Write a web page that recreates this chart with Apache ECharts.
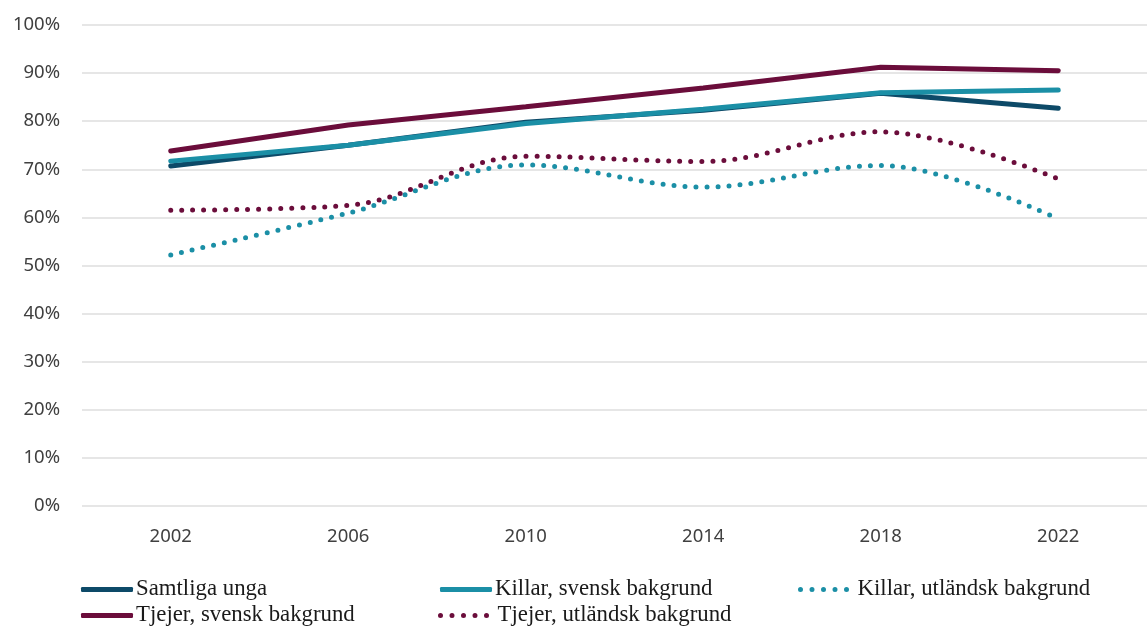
<!DOCTYPE html>
<html><head><meta charset="utf-8">
<script src="https://cdn.jsdelivr.net/npm/echarts@6/dist/echarts.min.js"></script>
<style>html,body{margin:0;padding:0;background:#fff}#c{width:1147px;height:628px}</style>
</head><body><div id="c"></div>
<script>
const categories = ['2002','2006','2010','2014','2018','2022'];
const samtligaUnga = [70.7, 75.0, 79.8, 82.3, 85.8, 82.7];
const killarSvensk = [71.7, 75.0, 79.5, 82.5, 85.9, 86.5];
const killarUtlandsk = [52.2, 60.9, 70.9, 66.3, 70.8, 59.7];
const tjejerSvensk = [73.8, 79.2, 83.0, 86.9, 91.2, 90.5];
const tjejerUtlandsk = [61.5, 62.5, 72.7, 71.6, 77.8, 68.0];
const yTicks = [0,10,20,30,40,50,60,70,80,90,100];

const cNavy = '#0d4a68', cTeal = '#1b8fa6', cMaroon = '#6b0d3b';
const dot = {type:[0,11], cap:'round', width:5};
function solid(name, data, color){
  return {name, type:'line', data, symbol:'none', lineStyle:{color, width:5, cap:'round'}, itemStyle:{color}, z: 3};
}
function dotted(name, data, color){
  return {name, type:'line', data, symbol:'none', smooth:0.35, lineStyle:Object.assign({color}, dot), itemStyle:{color}, z: 2};
}
// five-dot legend glyph
let dotsPath = 'path://';
[3, 14.5, 26, 37.5, 49].forEach(cx => { dotsPath += 'M' + (cx-2.5) + ',3a2.5,2.5 0 1,0 5,0a2.5,2.5 0 1,0 -5,0Z'; });
const legTxt = {fontFamily:'Liberation Serif', fontSize:22.8, color:'#1a1a1a'};
function leg(name, left, top, dotty){
  return {data:[{name, icon: dotty ? dotsPath : 'roundRect'}], left, top, orient:'horizontal', padding:0,
    itemWidth:52, itemHeight: 5, itemGap:0,
    textStyle:Object.assign({padding:[0,0,0, dotty ? 3 : -2]}, legTxt), selectedMode:false};
}
const chart = echarts.init(document.getElementById('c'));
chart.setOption({
  animation:false,
  grid:{left:82, right:-13, top:25, bottom:122, containLabel:false},
  xAxis:{type:'category', data:categories, boundaryGap:true,
    axisLine:{show:false}, axisTick:{show:false},
    axisLabel:{fontFamily:'Noto Sans', fontSize:18.5, color:'#404040', margin:21}},
  yAxis:{type:'value', min:0, max:100, interval:10,
    axisLabel:{formatter: v => yTicks.includes(v) ? v + '%' : '', fontFamily:'Noto Sans', fontSize:18.5, color:'#404040', margin:22},
    splitLine:{lineStyle:{color:'#dedede', width:1.5}}, axisLine:{show:false}, axisTick:{show:false}},
  legend:[
    leg('Samtliga unga', 81, 578, false),
    leg('Killar, svensk bakgrund', 440, 578, false),
    leg('Killar, utländsk bakgrund', 798, 578, true),
    leg('Tjejer, svensk bakgrund', 81, 604, false),
    leg('Tjejer, utländsk bakgrund', 438, 604, true)
  ],
  series:[
    dotted('Killar, utländsk bakgrund', killarUtlandsk, cTeal),
    dotted('Tjejer, utländsk bakgrund', tjejerUtlandsk, cMaroon),
    solid('Samtliga unga', samtligaUnga, cNavy),
    solid('Killar, svensk bakgrund', killarSvensk, cTeal),
    solid('Tjejer, svensk bakgrund', tjejerSvensk, cMaroon)
  ]
});
</script></body></html>
